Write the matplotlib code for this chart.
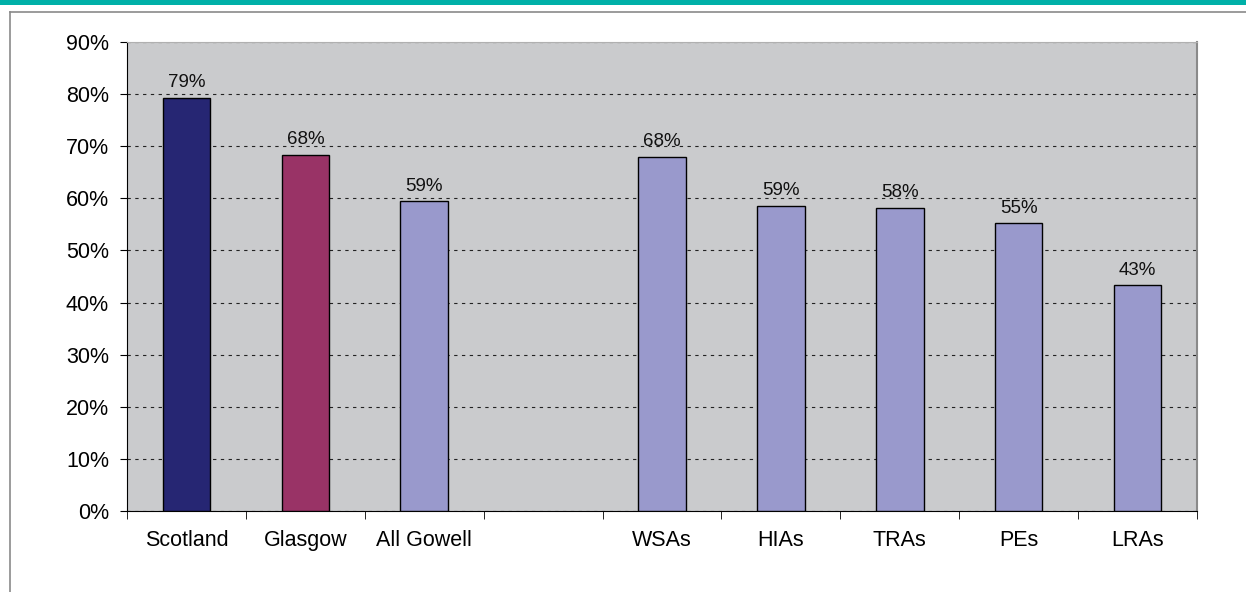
"""Gowell bar chart: share by area type, Scotland and Glasgow comparison."""

import matplotlib

matplotlib.use("Agg")

import matplotlib.pyplot as plt
import numpy as np
from matplotlib.lines import Line2D
from matplotlib.patches import Rectangle
from matplotlib.ticker import FixedLocator, PercentFormatter

CATEGORIES = ["Scotland", "Glasgow", "All Gowell", "", "WSAs", "HIAs", "TRAs", "PEs", "LRAs"]
VALUES = [79.3, 68.3, 59.4, np.nan, 67.9, 58.6, 58.1, 55.2, 43.3]
LABELS = ["79%", "68%", "59%", "", "68%", "59%", "58%", "55%", "43%"]
COLORS = ["#262673", "#993366", "#9999cc", "#9999cc", "#9999cc",
          "#9999cc", "#9999cc", "#9999cc", "#9999cc"]

W, H = 1246, 592

plt.rcParams["font.family"] = ["Liberation Sans", "DejaVu Sans"]

fig = plt.figure(figsize=(W / 100, H / 100), dpi=100)

# teal band and frame
fig.add_artist(Rectangle((0, 1 - 4.5 / H), 1, 4.5 / H, transform=fig.transFigure,
                         color="#00b0a8", lw=0))
fig.add_artist(Line2D([10 / W, 1], [1 - 12 / H, 1 - 12 / H], transform=fig.transFigure,
                      color="#8a8a8a", lw=1.2))
fig.add_artist(Line2D([10 / W, 10 / W], [0, 1 - 12 / H], transform=fig.transFigure,
                      color="#8a8a8a", lw=1.2))

ax = fig.add_axes([127 / W, 1 - 511 / H, (1197 - 127) / W, (511 - 42) / H])
ax.set_facecolor("#cacbcd")

x = np.arange(len(CATEGORIES))
ax.bar(x, VALUES, width=0.4, color=COLORS, edgecolor="black", linewidth=1.0, zorder=3)

for xi, v, lab in zip(x, VALUES, LABELS):
    if lab:
        ax.text(xi, v + 1.3, lab, ha="center", va="bottom", fontsize=13.5, color="#111111")

ax.set_xlim(-0.5, len(CATEGORIES) - 0.5)
ax.set_ylim(0, 90)
ax.set_yticks(np.arange(0, 91, 10))
ax.yaxis.set_major_formatter(PercentFormatter(decimals=0))
ax.grid(axis="y", linestyle=(0, (3, 4)), color="#222222", linewidth=0.8, zorder=1)

ax.set_xticks(x)
ax.set_xticklabels(CATEGORIES)
ax.tick_params(axis="x", length=0, pad=14, labelsize=15.5)
ax.xaxis.set_minor_locator(FixedLocator(np.arange(-0.5, len(CATEGORIES), 1.0)))
ax.tick_params(axis="x", which="minor", length=6, direction="out", color="black")
ax.tick_params(axis="y", length=5, direction="out", labelsize=15.5, pad=8)

ax.spines["left"].set_color("black")
ax.spines["bottom"].set_color("black")
ax.spines["top"].set_color("#b0b0b0")
ax.spines["right"].set_color("#8a8a8a")
ax.spines["right"].set_linewidth(1.5)

fig.savefig("out.png", dpi=100)
plt.close(fig)
